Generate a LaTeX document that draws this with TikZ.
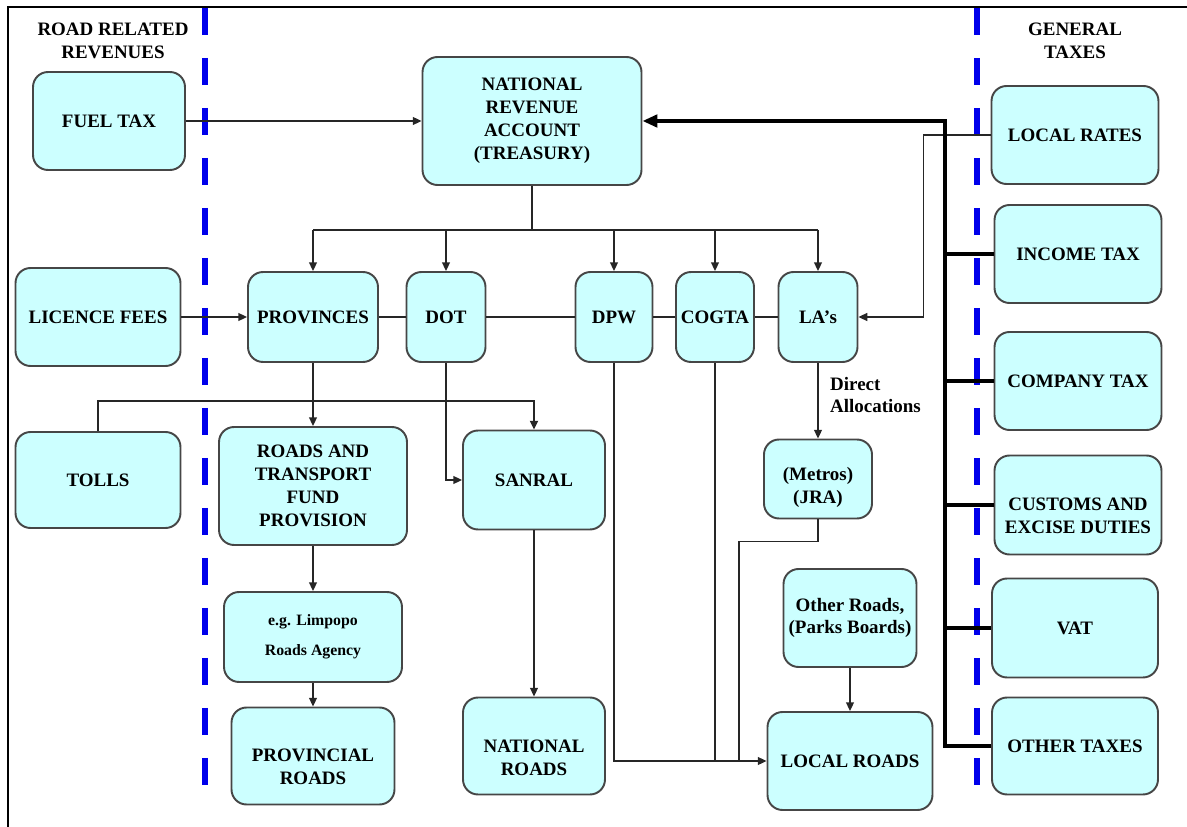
\documentclass[tikz,border=0pt]{standalone}
\usepackage{fontspec}
\setmainfont{Liberation Serif}
\usetikzlibrary{positioning,calc,arrows.meta}
\definecolor{boxfill}{RGB}{204,255,255}
\definecolor{boxline}{RGB}{70,70,70}
\definecolor{divcolor}{RGB}{0,0,235}
% pushes the text of a box down a little
\newcommand{\lowtext}[1]{\rule{0pt}{#1}}

\begin{document}
\begin{tikzpicture}[x=0.02cm, y=-0.02cm,
    box/.style={rectangle, rounded corners=0.3cm, draw=boxline, fill=boxfill, line width=1.1pt, align=center, inner sep=1pt, font=\bfseries\fontsize{10.8}{13}\selectfont},
    flow/.style={-{Triangle[length=5pt,width=4.5pt]}, line width=0.9pt, black!85},
    link/.style={line width=0.9pt, black!85},
    taxline/.style={line width=2.4pt, black},
    divider/.style={line width=3.4pt, divcolor, dash pattern=on 0.54cm off 0.46cm},
    heading/.style={font=\bfseries\fontsize{10.8}{13}\selectfont, align=center}
]
\useasboundingbox (0,0) rectangle (1187,827);

% Frame
\draw[line width=1.1pt] (8,827) -- (8,7) -- (1187,7);

% Dividers between revenue groups
\draw[divider] (205,8) -- (205,806);
\draw[divider] (977,8) -- (977,806);

% Column headings
\node[heading] (roadhead) at (113,41) {ROAD RELATED\\REVENUES};
\node[heading] (genhead) at (1075,41) {GENERAL\\TAXES};

% Road related revenues
\node[box, minimum width=3.04cm, minimum height=1.96cm] (fuel) at (109,121) {FUEL TAX};
\node[box, minimum width=3.3cm, minimum height=1.96cm] (licence) at (98,317) {LICENCE FEES};
\node[box, minimum width=3.3cm, minimum height=1.92cm] (tolls) at (98,480) {TOLLS};

% Treasury and departments
\node[box, minimum width=4.38cm, minimum height=2.56cm] (nra) at (532,121) {NATIONAL\\REVENUE\\ACCOUNT\\(TREASURY)};
\node[box, minimum width=2.6cm, minimum height=1.8cm] (prov) at (313,317) {PROVINCES};
\node[box, minimum width=1.58cm, minimum height=1.8cm] (dot) at (446,317) {DOT};
\node[box, minimum width=1.54cm, minimum height=1.8cm] (dpw) at (614,317) {DPW};
\node[box, minimum width=1.56cm, minimum height=1.8cm] (cogta) at (715,317) {COGTA};
\node[box, minimum width=1.58cm, minimum height=1.8cm] (las) at (818,317) {LA’s};

% Agencies
\node[box, minimum width=3.76cm, minimum height=2.36cm] (rtfp) at (313,486) {ROADS AND\\TRANSPORT\\FUND\\PROVISION};
\node[box, minimum width=2.84cm, minimum height=1.98cm] (sanral) at (534,480) {SANRAL};
\node[box, minimum width=3.56cm, minimum height=1.8cm, font=\bfseries\fontsize{9}{17}\selectfont] (limpopo) at (313,637) {e.g. Limpopo\\Roads Agency};
\node[box, minimum width=2.16cm, minimum height=1.58cm] (metros) at (818,479) {\lowtext{17.3pt}(Metros)\\(JRA)};
\node[box, minimum width=2.66cm, minimum height=1.96cm] (other) at (850,618) {Other Roads,\\(Parks Boards)};

% Road networks
\node[box, minimum width=3.26cm, minimum height=1.94cm] (provroads) at (313,756) {\lowtext{19.7pt}PROVINCIAL\\ROADS};
\node[box, minimum width=2.84cm, minimum height=1.94cm] (natroads) at (534,746) {\lowtext{20.5pt}NATIONAL\\ROADS};
\node[box, minimum width=3.3cm, minimum height=1.96cm] (local) at (850,761) {LOCAL ROADS};

% General taxes
\node[box, minimum width=3.34cm, minimum height=1.96cm] (rates) at (1075,135) {LOCAL RATES};
\node[box, minimum width=3.34cm, minimum height=1.96cm] (income) at (1078,254) {INCOME TAX};
\node[box, minimum width=3.34cm, minimum height=1.96cm] (company) at (1078,381) {COMPANY TAX};
\node[box, minimum width=3.34cm, minimum height=1.98cm] (customs) at (1078,505) {\lowtext{19.7pt}CUSTOMS AND\\EXCISE DUTIES};
\node[box, minimum width=3.32cm, minimum height=1.98cm] (vat) at (1075,628) {VAT};
\node[box, minimum width=3.32cm, minimum height=1.94cm] (othertax) at (1075,746) {OTHER TAXES};

% Label on direct allocations
\node[heading, anchor=west, align=left] (direct) at (824,395) {Direct\\Allocations};

% Revenue into treasury
\draw[flow] (fuel) -- (nra);
\draw[flow] (licence) -- (prov);

% Treasury to departments
\draw[link] (nra.south) -- ++(0,44) coordinate (bus);
\draw[link] (bus -| prov) -- (bus -| las);
\foreach \dept in {prov, dot, dpw, cogta, las}
    \draw[flow] (bus -| \dept) -- (\dept.north);
\draw[link] (prov) -- (dot) -- (dpw) -- (cogta) -- (las);

% Provincial chain
\draw[flow] (prov) -- (rtfp);
\draw[flow] (rtfp) -- (limpopo);
\draw[flow] (limpopo) -- (provroads);

% National chain
\draw[flow, line width=1.3pt] (tolls.north) -- ++(0,-30) -| (sanral.north);
\draw[flow] (dot.south) |- (sanral.west);
\draw[flow] (sanral) -- (natroads);

% Local chain
\coordinate (jrajoin) at (739,762);
\draw[flow] (las) -- (metros);
\draw[link] (metros.south) -- ++(0,22) -| (jrajoin);
\draw[flow] (dpw.south) |- (local.west);
\draw[link] (cogta.south) -- (cogta.south |- local.west);
\draw[flow] (other) -- (local);

% Local rates to LA's
\draw[flow] (rates.west) -- ++(-67,0) |- (las.east);

% General taxes to treasury
\coordinate (trunk) at (945,122);
\draw[taxline, -{Triangle[length=8.5pt,width=7pt]}] (othertax.west) -- (trunk |- othertax.west) |- (nra.east);
\foreach \tax in {income, company, customs, vat}
    \draw[taxline] (\tax.west) -- (trunk |- \tax.west);

\end{tikzpicture}
\end{document}
